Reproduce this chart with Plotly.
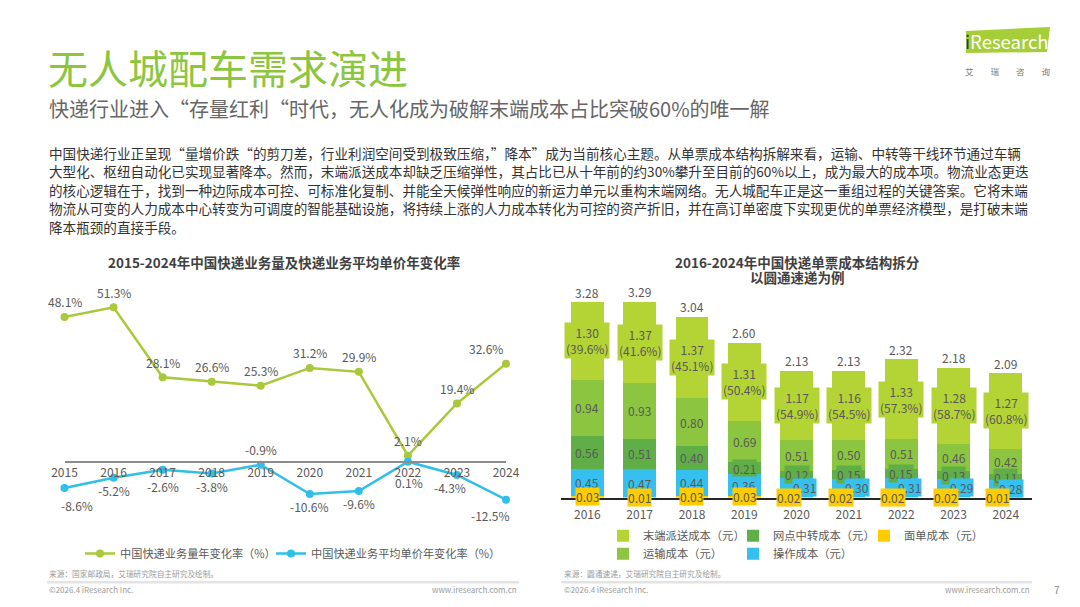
import plotly.graph_objects as go

W, H = 1080, 607
def fx(x):
    return x / W
def fy(y):
    return 1 - y / H

FONT = "Noto Sans CJK SC"
GRAY = "#595959"

# ---------------- data: left chart ----------------
years_left = [2015, 2016, 2017, 2018, 2019, 2020, 2021, 2022, 2023, 2024]
year_labels_left = ["2015", "2016", "2017", "2018", "2019", "2020", "2021", "2022", "2023", "2024"]
volume_growth = [48.1, 51.3, 28.1, 26.6, 25.3, 31.2, 29.9, 2.1, 19.4, 32.6]
price_growth = [-8.6, -5.2, -2.6, -3.8, -0.9, -10.6, -9.6, 0.1, -4.3, -12.5]
name_volume = "中国快递业务量年变化率（%）"
name_price = "中国快递业务平均单价年变化率（%）"

# ---------------- data: right chart ----------------
years_right = ["2016", "2017", "2018", "2019", "2020", "2021", "2022", "2023", "2024"]
cost_waybill = [0.03, 0.01, 0.03, 0.03, 0.02, 0.02, 0.02, 0.02, 0.01]      # 面单成本
cost_operation = [0.45, 0.47, 0.44, 0.36, 0.31, 0.30, 0.31, 0.29, 0.28]    # 操作成本
cost_transfer = [0.56, 0.51, 0.40, 0.21, 0.12, 0.15, 0.15, 0.13, 0.11]     # 网点中转成本
cost_transport = [0.94, 0.93, 0.80, 0.69, 0.51, 0.50, 0.51, 0.46, 0.42]    # 运输成本
cost_lastmile = [1.30, 1.37, 1.37, 1.31, 1.17, 1.16, 1.33, 1.28, 1.27]     # 末端派送成本
cost_total = [3.28, 3.29, 3.04, 2.60, 2.13, 2.13, 2.32, 2.18, 2.09]

# ---------------- styles ----------------
C_GREEN_LINE = "#a9c83a"
C_BLUE_LINE = "#2fbfe9"
C_LAST = "#b4d335"
C_TRANS = "#8cc540"
C_TRANSFER = "#5fae47"
C_OPER = "#35c0ef"
C_WAYBILL = "#ffcc00"

# label offsets (pixels) for left chart
vol_dx = [0, 0, 0, 0, 0, 0, 0, 0, 0, -20]
vol_dy = [15] * 10
price_dx = [12, 0, 0, 0, 0, 0, 0, 1, -7, -16]
price_dy = [-18, -13, -17, -13, 15, -13, -13, -21, -13, -16]
# label x offsets for small bar segments (right chart)
oper_dx = [0, 0, 0, 0, 8, 8, 8, 8, 5]
bill_dx = [0, 0, 0, 0, -8, -8, -8, -8, -8]

fig = go.Figure()

fig.add_trace(go.Scatter(
    x=years_left, y=volume_growth, name=name_volume, mode="lines+markers",
    line=dict(color=C_GREEN_LINE, width=2.5), marker=dict(size=8, color=C_GREEN_LINE),
    cliponaxis=False, xaxis="x", yaxis="y", legend="legend", showlegend=True))
fig.add_trace(go.Scatter(
    x=years_left, y=price_growth, name=name_price, mode="lines+markers",
    line=dict(color=C_BLUE_LINE, width=2.5), marker=dict(size=8, color=C_BLUE_LINE),
    cliponaxis=False, xaxis="x", yaxis="y", legend="legend2", showlegend=True))

bar_specs = [
    ("面单成本（元）", cost_waybill, C_WAYBILL, "legend5"),
    ("操作成本（元）", cost_operation, C_OPER, "legend7"),
    ("网点中转成本（元）", cost_transfer, C_TRANSFER, "legend4"),
    ("运输成本（元）", cost_transport, C_TRANS, "legend6"),
    ("末端派送成本（元）", cost_lastmile, C_LAST, "legend3"),
]
for name, vals, col, lg in bar_specs:
    fig.add_trace(go.Bar(x=years_right, y=vals, name=name, marker=dict(color=col, line=dict(width=0)),
                         xaxis="x2", yaxis="y2", legend=lg, showlegend=True))

ann = []
def A(text, x, y, size, color=GRAY, xanchor="center", yanchor="middle", weight="normal", **kw):
    d = dict(text=text, x=x, y=y, xref=kw.pop("xref", "paper"), yref=kw.pop("yref", "paper"),
             showarrow=False, xanchor=xanchor, yanchor=yanchor,
             font=dict(family=FONT, size=size, color=color, weight=weight))
    d.update(kw)
    ann.append(d)

# header
A("无人城配车需求演进", fx(46), fy(67), 40, "#8cc63f", xanchor="left")
A("快递行业进入“存量红利“时代，无人化成为破解末端成本占比突破60%的唯一解", fx(47), fy(108), 20, "#666666", xanchor="left")
body = [
    "中国快递行业正呈现“量增价跌“的剪刀差，行业利润空间受到极致压缩，”降本”成为当前核心主题。从单票成本结构拆解来看，运输、中转等干线环节通过车辆",
    "大型化、枢纽自动化已实现显著降本。然而，末端派送成本却缺乏压缩弹性，其占比已从十年前的约30%攀升至目前的60%以上，成为最大的成本项。物流业态更迭",
    "的核心逻辑在于，找到一种边际成本可控、可标准化复制、并能全天候弹性响应的新运力单元以重构末端网络。无人城配车正是这一重组过程的关键答案。它将末端",
    "物流从可变的人力成本中心转变为可调度的智能基础设施，将持续上涨的人力成本转化为可控的资产折旧，并在高订单密度下实现更优的单票经济模型，是打破末端",
    "降本瓶颈的直接手段。",
]
for i, line in enumerate(body):
    A(line, fx(47), fy(153 + i * 18.4), 13.6, "#333333", xanchor="left")

# chart titles
A("2015-2024年中国快递业务量及快递业务平均单价年变化率", fx(284), fy(262), 13.5, "#404040", weight="bold")
A("2016-2024年中国快递单票成本结构拆分", fx(797), fy(262), 13.5, "#404040", weight="bold")
A("以圆通速递为例", fx(797), fy(277), 13.5, "#404040", weight="bold")

# left chart data labels
for i, yr in enumerate(years_left):
    A(f"{volume_growth[i]:.1f}%", yr, volume_growth[i], 12, GRAY, xref="x", yref="y",
      xshift=vol_dx[i], yshift=vol_dy[i])
    A(f"{price_growth[i]:.1f}%", yr, price_growth[i], 12, GRAY, xref="x", yref="y",
      xshift=price_dx[i], yshift=price_dy[i])

# right chart segment labels (x given as category index on the category axis)
for i, yr in enumerate(years_right):
    b0 = 0.0
    b1 = b0 + cost_waybill[i]
    b2 = b1 + cost_operation[i]
    b3 = b2 + cost_transfer[i]
    b4 = b3 + cost_transport[i]
    b5 = b4 + cost_lastmile[i]
    pct = cost_lastmile[i] / cost_total[i] * 100
    A(f"{cost_lastmile[i]:.2f}<br>({pct:.1f}%)", i, (b4 + b5) / 2, 12, GRAY, xref="x2", yref="y2",
      bgcolor=C_LAST, borderpad=1)
    A(f"{cost_transport[i]:.2f}", i, (b3 + b4) / 2, 12, GRAY, xref="x2", yref="y2",
      bgcolor=C_TRANS, borderpad=0)
    A(f"{cost_transfer[i]:.2f}", i, (b2 + b3) / 2, 12, GRAY, xref="x2", yref="y2",
      bgcolor=C_TRANSFER, borderpad=0)
    A(f"{cost_operation[i]:.2f}", i, (b1 + b2) / 2, 12, GRAY, xref="x2", yref="y2",
      bgcolor=C_OPER, borderpad=0, xshift=oper_dx[i])
    A(f"{cost_waybill[i]:.2f}", i, (b0 + b1) / 2, 12, GRAY, xref="x2", yref="y2",
      bgcolor=C_WAYBILL, borderpad=0, xshift=bill_dx[i])
    A(f"{cost_total[i]:.2f}", i, cost_total[i], 12, GRAY, xref="x2", yref="y2", yshift=10)

# footers
FOOT = "#9a9a9a"
A("来源：国家邮政局，艾瑞研究院自主研究及绘制。", fx(47), fy(573.5), 7.7, FOOT, xanchor="left")
A("©2026.4 iResearch Inc.", fx(47), fy(589.5), 8, FOOT, xanchor="left")
A("www.iresearch.com.cn", fx(519), fy(589.5), 8, FOOT, xanchor="right")
A("来源：圆通速递，艾瑞研究院自主研究及绘制。", fx(561.5), fy(573.5), 7.7, FOOT, xanchor="left")
A("©2026.4 iResearch Inc.", fx(561.5), fy(589.5), 8, FOOT, xanchor="left")
A("www.iresearch.com.cn", fx(1032), fy(589.5), 8, FOOT, xanchor="right")
A("7", fx(1057), fy(589.5), 10, "#888888")

# logo
A("<span style='color:#1b3a6b'>i</span>Research", fx(1007), fy(41), 18.5, "#ffffff")
A("艾　　瑞　　咨　　询", fx(1007.5), fy(71.5), 8.5, "#7a7a7a")

shapes = [
    dict(type="line", xref="paper", yref="paper", x0=fx(47), x1=fx(519), y0=fy(582.3), y1=fy(582.3),
         line=dict(color="#e3e3e3", width=2.5)),
    dict(type="line", xref="paper", yref="paper", x0=fx(561.5), x1=fx(1032), y0=fy(582.3), y1=fy(582.3),
         line=dict(color="#e3e3e3", width=2.5)),
    dict(type="path", xref="paper", yref="paper",
         path=f"M {fx(966)} {fy(31)} L {fx(1050)} {fy(27)} L {fx(1047)} {fy(52)} L {fx(966)} {fy(53)} Z",
         fillcolor="#a6ce39", line=dict(width=0), layer="below"),
]

def legend_at(xpx, ypx, size):
    return dict(x=fx(xpx), y=fy(ypx), xanchor="left", yanchor="middle", xref="paper", yref="paper",
                orientation="h", bgcolor="rgba(0,0,0,0)", borderwidth=0,
                font=dict(family=FONT, size=size, color=GRAY))

fig.update_layout(
    width=W, height=H, margin=dict(l=0, r=0, t=0, b=0, pad=0, autoexpand=False),
    paper_bgcolor="white", plot_bgcolor="rgba(0,0,0,0)",
    font=dict(family=FONT, color=GRAY),
    showlegend=True,
    barmode="stack", bargap=0.37,
    xaxis=dict(domain=[fx(64.5), fx(506)], range=[2015, 2024], anchor="free", position=fy(462),
               showline=True, linecolor="#8c8c8c", linewidth=1.5, showgrid=False, zeroline=False,
               tickmode="array", tickvals=years_left, ticktext=year_labels_left, ticks="",
               tickfont=dict(family=FONT, size=12, color=GRAY), automargin=False),
    yaxis=dict(domain=[fy(462 + 20 * 3.016), fy(462 - 60 * 3.016)], range=[-20, 60], visible=False,
               anchor="x", automargin=False),
    xaxis2=dict(domain=[fx(561.2), fx(1032)], type="category", categoryorder="array",
                categoryarray=years_right, range=[-0.5, len(years_right) - 0.5], anchor="y2",
                showline=True, linecolor="#262626", linewidth=1.5, showgrid=False, ticks="",
                ticklabelstandoff=5, automargin=False,
                tickfont=dict(family=FONT, size=12, color=GRAY)),
    yaxis2=dict(domain=[fy(497.7), fy(497.7 - 3.5 * 59.6)], range=[0, 3.5], visible=False, anchor="x2",
                automargin=False),
    legend=legend_at(80, 553.5, 11.2),
    legend2=legend_at(271, 553.5, 11.2),
    legend3=legend_at(603, 535.7, 11.3),
    legend4=legend_at(733, 535.7, 11.3),
    legend5=legend_at(864, 535.7, 11.3),
    legend6=legend_at(603, 553.7, 11.3),
    legend7=legend_at(733, 553.7, 11.3),
    annotations=ann, shapes=shapes,
)

fig.write_html("out.html", config={"displayModeBar": False},
               post_script="document.body.style.margin='0';document.body.style.overflow='hidden';")
